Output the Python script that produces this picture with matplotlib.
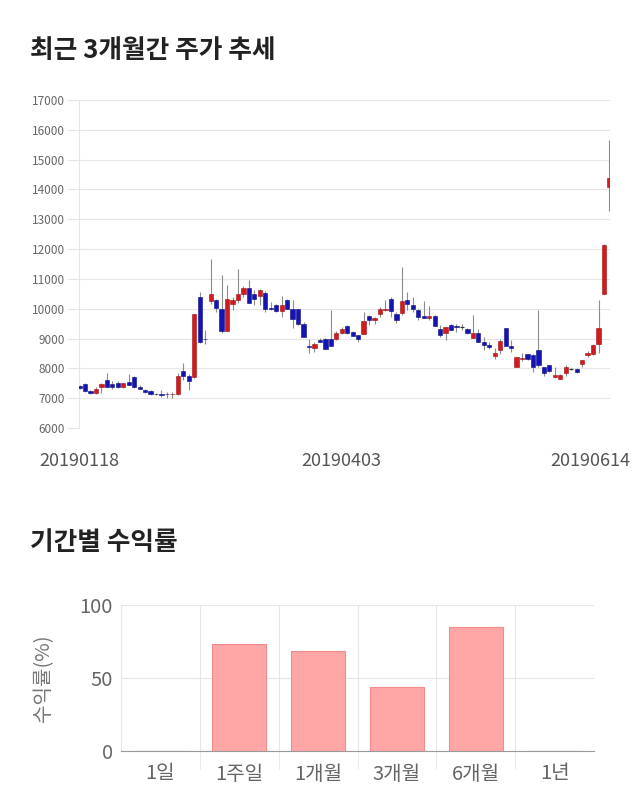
import numpy as np
import matplotlib.pyplot as plt
from matplotlib.transforms import ScaledTranslation

plt.rcParams['font.family'] = ['Noto Sans CJK KR', 'DejaVu Sans']

# daily candles, 20190118 .. 20190614
opens = [7400, 7470, 7240, 7160, 7390, 7610, 7480, 7500, 7370, 7550,
         7720, 7380, 7280, 7250, 7150, 7150, 7140, 7130, 7130, 7920,
         7760, 7700, 10390, 9000, 10250, 10300, 10000, 9260, 10150, 10280,
         10510, 10690, 10490, 10420, 10540, 10030, 10130, 9910, 10300, 10000,
         9980, 9500, 8750, 8670, 8950, 9000, 8970, 9000, 9200, 9430,
         9220, 9110, 9150, 9770, 9610, 9810, 9950, 10330, 9830, 9870,
         10300, 10130, 9950, 9750, 9700, 9760, 9330, 9200, 9470, 9430,
         9400, 9330, 9030, 9190, 8890, 8800, 8420, 8600, 9370, 8750,
         8060, 8320, 8470, 8450, 8610, 8030, 8100, 7700, 7640, 7860,
         7970, 7970, 8150, 8450, 8470, 8810, 10500, 14090]
highs = [7430, 7500, 7260, 7390, 7500, 7850, 7560, 7560, 7520, 7810,
         7740, 7440, 7320, 7270, 7190, 7270, 7220, 7220, 7830, 8170,
         7800, 9810, 10560, 9280, 11670, 10330, 11130, 10780, 10400, 11330,
         10750, 10980, 10620, 10670, 10580, 10240, 10150, 10440, 10320, 10300,
         10000, 9550, 9000, 8890, 9010, 9010, 9960, 9240, 9390, 9450,
         9240, 9120, 9890, 9790, 9720, 10060, 10300, 10390, 9890, 11390,
         10560, 10400, 9980, 10260, 10100, 9780, 9440, 9400, 9490, 9500,
         9500, 9340, 9800, 9330, 9060, 8890, 8670, 9000, 9370, 8950,
         8390, 8500, 8490, 8470, 9960, 8060, 8120, 8040, 7800, 8110,
         8000, 8000, 8290, 8570, 8830, 10300, 12160, 15650]
lows = [7300, 7220, 7150, 7150, 7170, 7390, 7300, 7340, 7330, 7440,
        7340, 7300, 7170, 7120, 7100, 7030, 7000, 7000, 7120, 7610,
        7280, 7690, 8850, 8830, 10170, 9890, 9170, 9250, 9950, 10200,
        10400, 10180, 10120, 10120, 9880, 9950, 9900, 9720, 9990, 9370,
        9470, 9040, 8520, 8560, 8880, 8650, 8740, 8950, 9150, 9150,
        9080, 8870, 9140, 9440, 9480, 9720, 9920, 9720, 9520, 9800,
        9960, 9900, 9610, 9700, 9610, 9430, 9050, 8950, 9280, 9220,
        9300, 9150, 9010, 8880, 8620, 8640, 8330, 8490, 8740, 8560,
        8040, 8250, 8280, 7890, 8030, 7750, 7880, 7690, 7630, 7730,
        7940, 7850, 8040, 8380, 8450, 8500, 10490, 13290]
closes = [7350, 7250, 7160, 7310, 7480, 7390, 7370, 7370, 7500, 7450,
          7360, 7310, 7200, 7150, 7130, 7120, 7130, 7140, 7750, 7760,
          7580, 9810, 8870, 8990, 10500, 10040, 9260, 10330, 10300, 10490,
          10690, 10200, 10330, 10630, 10000, 9990, 9910, 10130, 10000, 9670,
          9500, 9060, 8700, 8810, 8890, 8660, 8760, 9190, 9310, 9170,
          9100, 8990, 9580, 9610, 9690, 10000, 10000, 9910, 9610, 10270,
          10160, 10000, 9720, 9700, 9750, 9430, 9130, 9390, 9300, 9390,
          9400, 9170, 9190, 8890, 8780, 8720, 8530, 8920, 8750, 8670,
          8390, 8360, 8300, 8030, 8100, 7860, 7900, 7780, 7780, 8050,
          7970, 7890, 8280, 8530, 8800, 9340, 12150, 14400]
date_labels = ['20190118', '20190403', '20190614']
date_label_idx = [0, 48, 97]

# period returns (%)
periods = ['1일', '1주일', '1개월', '3개월', '6개월', '1년']
returns = [0, 73.6, 68.3, 43.5, 85.2, 0]

RED = '#d01c1f'
BLUE = '#1414b4'
GRID = '#e6e6e6'

fig = plt.figure(figsize=(6.4, 8.1), dpi=100)

fig.text(30 / 640, 1 - 50 / 810, '최근 3개월간 주가 추세', fontsize=18.5,
         fontweight='bold', color='#222222', va='center', ha='left')
fig.text(30 / 640, 1 - 543 / 810, '기간별 수익률', fontsize=18.5,
         fontweight='bold', color='#222222', va='center', ha='left')

# ---- candlestick chart ----
ax = fig.add_axes([79 / 640, 1 - 428 / 810, 531 / 640, 328 / 810])
o = np.array(opens, dtype=float)
h = np.array(highs, dtype=float)
l = np.array(lows, dtype=float)
c = np.array(closes, dtype=float)
x = np.arange(len(o))
up = c > o
down = c < o
flat = ~(up | down)

ax.vlines(x, l, h, color='#8c8c8c', lw=0.8, zorder=2)
bottom = np.minimum(o, c)
height = np.abs(c - o)
ax.bar(x[up], height[up], bottom=bottom[up], width=0.78,
       color=RED, edgecolor='#a01015', lw=0.4, zorder=3)
ax.bar(x[down], height[down], bottom=bottom[down], width=0.78,
       color=BLUE, edgecolor='#0c0c80', lw=0.4, zorder=3)
ax.hlines(o[flat], x[flat] - 0.4, x[flat] + 0.4, color='#333333', lw=0.9, zorder=3)

ax.set_xlim(-0.1, len(o) - 0.9)
ax.set_ylim(6000, 17000)
ax.set_yticks(np.arange(6000, 17001, 1000))
ax.yaxis.grid(True, color=GRID, lw=0.8)
ax.set_axisbelow(True)
ax.tick_params(axis='y', length=9, color=GRID, labelsize=8.5,
               labelcolor='#666666', pad=1)
ax.set_xticks(date_label_idx)
ax.set_xticklabels(date_labels)
ax.tick_params(axis='x', length=0, labelsize=13, labelcolor='#555555', pad=17)
lbls = ax.get_xticklabels()
lbls[-1].set_transform(lbls[-1].get_transform() +
                       ScaledTranslation(-0.19, 0, fig.dpi_scale_trans))
for s in ['top', 'right', 'bottom']:
    ax.spines[s].set_visible(False)
ax.spines['left'].set_color(GRID)

# ---- returns bar chart ----
ax2 = fig.add_axes([121 / 640, 1 - 751 / 810, 473 / 640, 146 / 810])
xp = np.arange(len(periods))
ax2.bar(xp, returns, width=0.69, color='#ffa6a6', edgecolor='#f08c8c',
        lw=0.8, zorder=3)
ax2.set_xlim(-0.5, len(periods) - 0.5)
ax2.set_ylim(0, 100)
ax2.set_yticks([0, 50, 100])
ax2.yaxis.grid(True, color=GRID, lw=0.8)
ax2.set_xticks(xp[:-1] + 0.5, minor=True)
ax2.xaxis.grid(True, which='minor', color=GRID, lw=0.8)
ax2.set_axisbelow(True)
ax2.set_xticks(xp)
ax2.set_xticklabels(periods)
ax2.tick_params(axis='x', which='major', length=0, labelsize=14.5,
                labelcolor='#666666', pad=9)
ax2.tick_params(axis='x', which='minor', length=13, color=GRID)
ax2.tick_params(axis='y', length=0, labelsize=14.5, labelcolor='#666666', pad=6)
ax2.set_ylabel('수익률(%)', fontsize=14.5, color='#777777', labelpad=18)
for s in ['top', 'right']:
    ax2.spines[s].set_visible(False)
ax2.spines['left'].set_color(GRID)
ax2.spines['bottom'].set_color('#999999')

fig.savefig('out.png', dpi=100)
plt.close(fig)
